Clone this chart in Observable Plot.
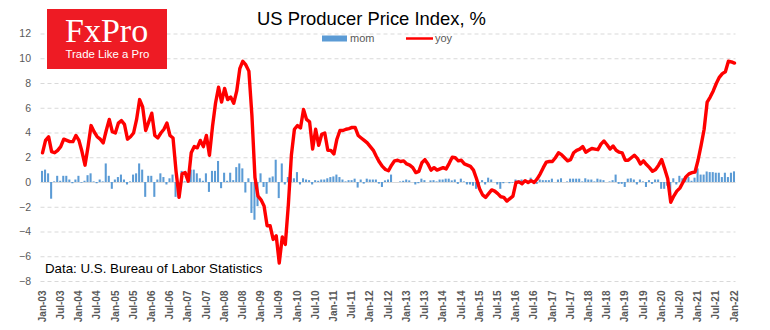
<!DOCTYPE html>
<html>
<head>
<meta charset="utf-8">
<script src="https://cdn.jsdelivr.net/npm/d3@7"></script>
<script src="https://cdn.jsdelivr.net/npm/@observablehq/plot@0.6"></script>
<style>
  html, body { margin: 0; padding: 0; background: #fff; }
  #wrap { position: relative; width: 770px; height: 330px; overflow: hidden; }
  #wrap > svg { position: absolute; left: 0; top: 0; }
  #overlay { pointer-events: none; }
</style>
</head>
<body>
<div id="wrap"></div>
<script>
// ---- Data ----
const monthNames = ["Jan","Feb","Mar","Apr","May","Jun","Jul","Aug","Sep","Oct","Nov","Dec"];
const firstYear = 2003;

// year-over-year change, %, Jan-03 .. Jan-22
const yoy = [
  2.4, 3.4, 3.7, 2.5, 2.4, 2.6, 2.9, 3.5, 3.4, 3.3, 3.3, 3.8,        // 2003
  3.4, 2.5, 1.4, 2.9, 4.6, 4.1, 3.7, 3.5, 3.2, 4.2, 5.1, 4.1,        // 2004
  4.0, 4.8, 5.0, 4.7, 3.5, 3.7, 4.0, 5.1, 6.7, 6.1, 4.2, 4.9,        // 2005
  5.6, 3.8, 3.6, 4.0, 4.3, 4.8, 3.8, 3.6, 0.9, -1.2, 0.7, 0.8,       // 2006
  0.1, 2.4, 2.9, 2.8, 3.4, 2.9, 3.8, 2.2, 4.5, 6.4, 7.7, 6.5,        // 2007
  7.6, 6.7, 6.9, 6.4, 7.4, 9.2, 9.8, 9.5, 9.0, 5.4, 0.4, -1.1,       // 2008
  -1.4, -1.9, -3.5, -3.5, -4.6, -4.3, -6.5, -4.4, -5.0, -1.8, 2.2, 4.3, // 2009
  4.6, 4.4, 5.9, 5.1, 4.9, 2.7, 4.3, 3.0, 3.9, 4.0, 2.6, 2.6,        // 2010
  2.3, 3.5, 4.2, 4.2, 4.3, 4.35, 4.45, 4.45, 3.8, 3.6, 3.4, 3.2,     // 2011
  2.9, 2.6, 2.1, 1.65, 1.3, 1.05, 0.95, 1.4, 1.75, 1.8, 1.7, 1.75,   // 2012
  1.5, 1.4, 1.2, 0.8, 0.9, 1.6, 1.85, 1.5, 1.0, 1.2, 1.0, 1.1,       // 2013
  1.2, 1.1, 1.55, 2.05, 2.0, 1.75, 1.8, 1.5, 1.4, 1.3, 1.0, 0.3,     // 2014
  -0.5, -1.0, -1.2, -0.9, -0.6, -0.7, -0.9, -1.15, -1.2, -1.5, -1.3, -1.1, // 2015
  0.0, 0.05, -0.1, 0.15, 0.0, 0.15, 0.0, 0.3, 0.7, 1.2, 1.65, 1.7,   // 2016
  1.7, 2.0, 2.4, 2.25, 2.0, 1.75, 1.85, 2.4, 2.6, 2.7, 2.9, 2.45,    // 2017
  2.6, 2.75, 2.7, 2.65, 3.1, 3.35, 3.05, 2.7, 2.95, 2.6, 2.45, 2.4,  // 2018
  1.8, 1.8, 2.0, 2.2, 1.95, 1.5, 1.75, 1.45, 1.2, 0.9, 1.05, 1.4,    // 2019
  1.85, 1.1, 0.3, -1.6, -1.1, -0.7, -0.45, 0.0, 0.45, 0.7, 0.8, 0.85, // 2020
  1.8, 3.0, 4.3, 6.5, 6.9, 7.4, 8.0, 8.5, 8.8, 8.95, 9.8, 9.75,      // 2021
  9.65                                                               // 2022
];

// month-over-month change, %, Jan-03 .. Jan-22
const mom = [
  0.9, 1.0, 0.7, -1.35, 0.05, 0.5, 0.1, 0.5, 0.5, 0.2, -0.1, 0.2,    // 2003
  0.5, -0.05, 0.1, 0.55, 0.7, 0.05, -0.1, 0.2, 0.05, 1.5, 0.5, -0.55, // 2004
  0.2, 0.4, 0.6, 0.2, -0.2, 0.05, 0.6, 0.7, 1.5, 1.0, -1.2, 0.5,     // 2005
  0.5, -1.2, 0.2, 0.7, 0.4, -0.2, 0.3, 0.6, -1.2, -1.3, 0.9, 0.05,   // 2006
  0.2, 1.0, 1.0, 0.7, 0.3, 0.1, 0.7, -0.8, 0.9, 0.9, 1.7, -0.5,      // 2007
  0.75, 0.1, 0.75, 0.15, 1.2, 1.5, 1.1, -0.85, 0.3, -2.5, -3.05, -1.95, // 2008
  0.7, -0.4, -0.95, 0.35, 0.45, 1.8, -1.3, 1.5, -0.2, 0.4, 1.25, 0.3, // 2009
  0.8, -0.2, 0.3, 0.2, 0.15, -0.2, 0.15, 0.1, 0.2, 0.2, 0.3, 0.4,    // 2010
  0.45, 0.6, 0.4, 0.2, 0.05, 0.15, 0.15, 0.27, -0.45, 0.2, -0.13, 0.27, // 2011
  0.2, 0.2, 0.2, -0.13, -0.4, 0.13, 0.2, 0.6, 0.0, 0.0, 0.05, 0.1,   // 2012
  0.2, 0.13, 0.0, -0.2, -0.1, 0.27, 0.15, 0.0, 0.13, 0.15, 0.05, 0.2, // 2013
  0.2, 0.27, 0.27, 0.13, 0.2, -0.15, 0.27, 0.05, -0.2, -0.2, -0.3, -0.55, // 2014
  -0.2, 0.15, -0.2, 0.35, 0.2, 0.0, -0.2, -0.55, -0.1, 0.0, -0.1, -0.05, // 2015
  0.2, 0.15, 0.2, 0.15, 0.05, 0.35, 0.15, -0.15, 0.2, 0.15, 0.15, 0.15, // 2016
  0.27, 0.0, 0.2, 0.3, 0.0, 0.05, 0.27, 0.27, 0.27, 0.27, 0.05, 0.3, // 2017
  0.2, 0.2, 0.05, 0.27, 0.2, 0.15, 0.0, 0.05, 0.15, 0.6, -0.15, -0.15, // 2018
  -0.4, 0.27, 0.3, 0.2, -0.2, 0.2, 0.05, -0.4, 0.15, -0.15, 0.2, 0.2, // 2019
  -0.55, -0.55, -0.3, -1.0, 0.3, -0.2, 0.5, 0.3, 0.3, 0.4, 0.1, 0.35, // 2020
  1.1, 0.6, 0.6, 0.85, 0.8, 0.8, 0.75, 0.75, 0.4, 0.75, 0.4, 0.75,   // 2021
  0.86                                                               // 2022
];

const yTicks = [-8, -6, -4, -2, 0, 2, 4, 6, 8, 10, 12];
const xTickEvery = 6;

// ---- Build rows ----
const labels = yoy.map((_, i) =>
  `${monthNames[i % 12]}-${String((firstYear + Math.floor(i / 12)) % 100).padStart(2, "0")}`);
const rows = yoy.map((v, i) => ({i, label: labels[i], yoy: v, mom: mom[i]}));
const xTicks = rows.filter(d => d.i % xTickEvery === 0).map(d => d.i);

const chart = Plot.plot({
  width: 770,
  height: 330,
  marginLeft: 40.5,
  marginRight: 34.5,
  marginTop: 33.5,
  marginBottom: 49,
  style: {background: "white", fontFamily: "'Liberation Sans', Arial, sans-serif", overflow: "visible"},
  x: {domain: [-0.5, rows.length - 0.5], label: null},
  y: {domain: [-8, 12], label: null},
  marks: [
    Plot.gridY(yTicks.filter(t => t !== 0), {stroke: "#d9d9d9", strokeOpacity: 1, strokeDasharray: "4,3", strokeWidth: 1}),
    Plot.ruleY([0], {stroke: "#d9d9d9", strokeWidth: 1}),
    Plot.rect(rows, {x1: d => d.i - 0.34, x2: d => d.i + 0.34, y1: 0, y2: "mom", fill: "#5b9bd5"}),
    Plot.line(rows, {x: "i", y: "yoy", stroke: "#ff0000", strokeWidth: 3.4, strokeLinejoin: "round", strokeLinecap: "round"}),
    Plot.axisY(yTicks, {tickSize: 0, tickPadding: 10, fontSize: 10.5, fill: "#595959", label: null}),
    Plot.axisX(xTicks, {tickSize: 0, tickPadding: 9, tickRotate: -90, tickFormat: i => labels[i],
      fontSize: 10, fontWeight: "bold", fill: "#595959", label: null})
  ]
});

const wrap = document.getElementById("wrap");
wrap.appendChild(chart);

// ---- Overlay: logo, title, legend, caption (real text) ----
const ns = "http://www.w3.org/2000/svg";
const ov = document.createElementNS(ns, "svg");
ov.setAttribute("id", "overlay");
ov.setAttribute("width", 770);
ov.setAttribute("height", 330);
ov.setAttribute("style", "position:absolute;left:0;top:0");
function el(tag, attrs, text) {
  const e = document.createElementNS(ns, tag);
  for (const k in attrs) e.setAttribute(k, attrs[k]);
  if (text != null) e.textContent = text;
  ov.appendChild(e);
  return e;
}
// logo
el("rect", {x: 47, y: 9, width: 120, height: 60, fill: "#ee1b24"});
el("text", {x: 65, y: 42, fill: "#fff", "font-family": "'Liberation Serif', 'DejaVu Serif', serif", "font-size": 34}, "FxPro");
el("text", {x: 65.5, y: 58, fill: "#fff", "font-family": "'Liberation Sans', Arial, sans-serif", "font-size": 11.4}, "Trade Like a Pro");
// title
el("text", {x: 371.5, y: 25, "text-anchor": "middle", fill: "#000", "font-family": "'Liberation Sans', Arial, sans-serif", "font-size": 18.4}, "US Producer Price Index, %");
// legend
el("rect", {x: 322, y: 35.5, width: 25, height: 6, fill: "#5b9bd5"});
el("text", {x: 350, y: 42, fill: "#595959", "font-family": "'Liberation Sans', Arial, sans-serif", "font-size": 11}, "mom");
el("line", {x1: 406, x2: 433, y1: 38.5, y2: 38.5, stroke: "#ff0000", "stroke-width": 2.5});
el("text", {x: 435, y: 42, fill: "#595959", "font-family": "'Liberation Sans', Arial, sans-serif", "font-size": 11}, "yoy");
// caption
el("text", {x: 45, y: 272.5, fill: "#000", "font-family": "'Liberation Sans', Arial, sans-serif", "font-size": 13.3}, "Data: U.S. Bureau of Labor Statistics");
wrap.appendChild(ov);
</script>
</body>
</html>
